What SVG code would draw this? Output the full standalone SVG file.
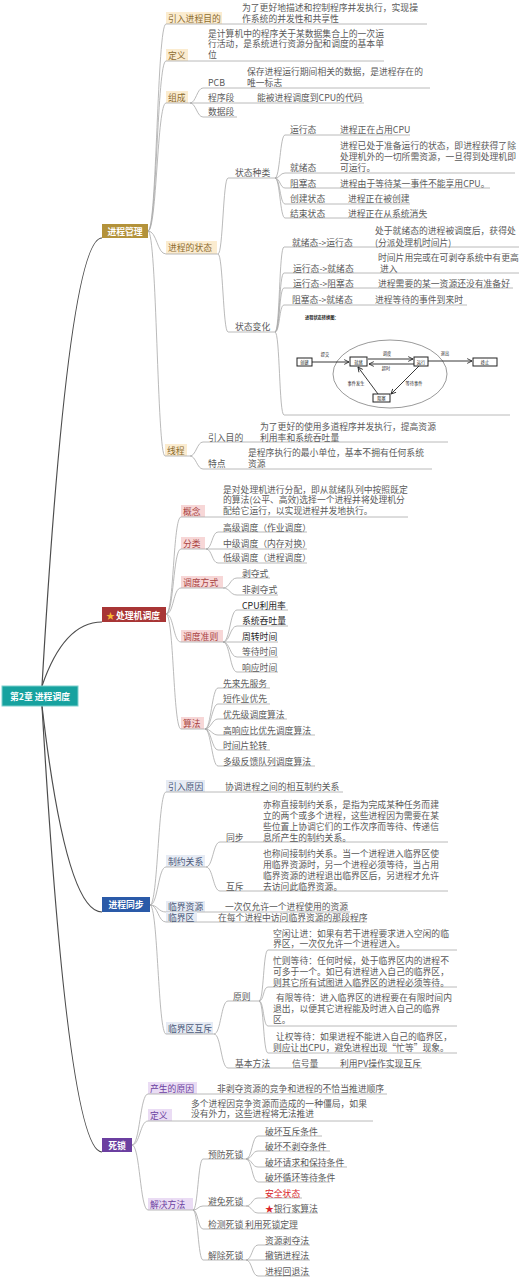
<svg xmlns="http://www.w3.org/2000/svg" width="519" height="1280" viewBox="0 0 519 1280">
<defs>
<style>
.ln{fill:none;stroke:#a8a8a8;stroke-width:0.8}
.mn{fill:none;stroke:#4d4d4d;stroke-width:1.2}
.t{font-family:"Noto Sans CJK SC","Liberation Sans",sans-serif;font-size:8.8px;fill:#5a5a5a;dominant-baseline:central}
.w{fill:#fff;font-weight:bold}
.g{fill:#8c6b2f}.r{fill:#a94442}.b{fill:#4a5878}.p{fill:#6b3fa0}.k{fill:#1e1e1e}.red{fill:#d9262b}
.bg{fill:#fbecd0}.bp{fill:#f7d7d7}.bb{fill:#e6ebf4}.bv{fill:#eadcf4}
.sd{font-family:"Noto Sans CJK SC","Liberation Sans",sans-serif;font-size:4.2px;fill:#222;dominant-baseline:central}
.bx{fill:#fff;stroke:#222;stroke-width:1}
.ar{fill:none;stroke:#222;stroke-width:0.9}
</style>
<marker id="ah" viewBox="0 0 10 10" refX="9" refY="5" markerWidth="6" markerHeight="6" orient="auto" markerUnits="userSpaceOnUse">
<path d="M1,1 L9,5 L1,9" fill="none" stroke="#222" stroke-width="1.4"/>
</marker>
</defs>
<rect width="519" height="1280" fill="#fff"/>

<g id="connectors">
<path class="mn" d="M42,686 Q68,238 102,238"/>
<path class="mn" d="M42,686 Q64,622 102,622"/>
<path class="mn" d="M42,706 Q66,912 102,912"/>
<path class="mn" d="M42,706 Q68,1152 102,1152"/>
<path class="ln" d="M148,231 C157,231 157,24 166,24"/>
<path class="ln" d="M148,231 C157,231 157,61 166,61"/>
<path class="ln" d="M148,231 C157,231 157,103 166,103"/>
<path class="ln" d="M148,231 C157,231 157,254 166,254"/>
<path class="ln" d="M148,231 C157,231 157,456 165,456"/>
<path class="ln" d="M190,103 C196,103 197,88 203,88"/>
<path class="ln" d="M190,103 L203,103"/>
<path class="ln" d="M190,103 C196,103 197,117 203,117"/>
<path class="ln" d="M218,254 C223,254 223,178 228,178"/>
<path class="ln" d="M218,254 C223,254 223,332 228,332"/>
<path class="ln" d="M275,178 C280,178 280,135 285,135"/>
<path class="ln" d="M275,178 C280,178 280,173 285,173"/>
<path class="ln" d="M275,178 C280,178 280,188 285,188"/>
<path class="ln" d="M275,178 C280,178 280,204 285,204"/>
<path class="ln" d="M275,178 C280,178 280,218 285,218"/>
<path class="ln" d="M275,332 C280,332 279,247 284,247"/>
<path class="ln" d="M275,332 C280,332 279,273 284,273"/>
<path class="ln" d="M275,332 C280,332 279,288 284,288"/>
<path class="ln" d="M275,332 C280,332 279,305 284,305"/>
<path class="ln" d="M275,332 C280,332 279,415 284,415"/>
<path class="ln" d="M190,456 C196,456 197,442 203,442"/>
<path class="ln" d="M190,456 C196,456 197,469 203,469"/>
<path class="ln" d="M166,614 C174,614 173,517 181,517"/>
<path class="ln" d="M166,614 C174,614 173,549 181,549"/>
<path class="ln" d="M166,614 C174,614 173,588 181,588"/>
<path class="ln" d="M166,614 C174,614 173,642 181,642"/>
<path class="ln" d="M166,614 C174,614 173,729 181,729"/>
<path class="ln" d="M206,549 C212,549 212,532 218,532"/>
<path class="ln" d="M206,549 L218,549"/>
<path class="ln" d="M206,549 C212,549 212,563 218,563"/>
<path class="ln" d="M223,588 C230,588 230,578 237,578"/>
<path class="ln" d="M223,588 C230,588 230,595 237,595"/>
<path class="ln" d="M223,642 C230,642 230,610 237,610"/>
<path class="ln" d="M223,642 C230,642 230,626 237,626"/>
<path class="ln" d="M223,642 L237,642"/>
<path class="ln" d="M223,642 C230,642 230,657 237,657"/>
<path class="ln" d="M223,642 C230,642 230,672 237,672"/>
<path class="ln" d="M205,729 C211,729 212,688 218,688"/>
<path class="ln" d="M205,729 C211,729 212,704 218,704"/>
<path class="ln" d="M205,729 C211,729 212,719 218,719"/>
<path class="ln" d="M205,729 C211,729 212,735 218,735"/>
<path class="ln" d="M205,729 C211,729 212,750 218,750"/>
<path class="ln" d="M205,729 C211,729 212,766 218,766"/>
<path class="ln" d="M150,905 C158,905 158,792 166,792"/>
<path class="ln" d="M150,905 C158,905 158,867 166,867"/>
<path class="ln" d="M150,905 C158,905 158,912 166,912"/>
<path class="ln" d="M150,905 C158,905 158,922 166,922"/>
<path class="ln" d="M150,905 C158,905 158,1034 166,1034"/>
<path class="ln" d="M206,867 C213,867 213,842 220,842"/>
<path class="ln" d="M206,867 C213,867 213,891 220,891"/>
<path class="ln" d="M214,1034 C221,1034 221,1001 228,1001"/>
<path class="ln" d="M214,1034 C221,1034 221,1068 228,1068"/>
<path class="ln" d="M259,1001 C264,1001 263,950 268,950"/>
<path class="ln" d="M259,1001 C264,1001 263,987 268,987"/>
<path class="ln" d="M259,1001 C264,1001 263,1026 268,1026"/>
<path class="ln" d="M259,1001 C264,1001 263,1053 268,1053"/>
<path class="ln" d="M132,1145 C140,1145 140,1094 148,1094"/>
<path class="ln" d="M132,1145 C140,1145 140,1121 148,1121"/>
<path class="ln" d="M132,1145 C140,1145 140,1210 148,1210"/>
<path class="ln" d="M193,1210 C198,1210 198,1159 203,1159"/>
<path class="ln" d="M193,1210 C198,1210 198,1206 203,1206"/>
<path class="ln" d="M193,1210 C198,1210 198,1229 203,1229"/>
<path class="ln" d="M193,1210 C198,1210 198,1260 203,1260"/>
<path class="ln" d="M246,1159 C252,1159 252,1136 258,1136"/>
<path class="ln" d="M246,1159 C252,1159 252,1151 258,1151"/>
<path class="ln" d="M246,1159 C252,1159 252,1167 258,1167"/>
<path class="ln" d="M246,1159 C252,1159 252,1182 258,1182"/>
<path class="ln" d="M246,1206 C252,1206 252,1198 258,1198"/>
<path class="ln" d="M246,1206 C252,1206 252,1213 258,1213"/>
<path class="ln" d="M246,1260 C252,1260 252,1245 258,1245"/>
<path class="ln" d="M246,1260 L258,1260"/>
<path class="ln" d="M246,1260 C252,1260 252,1276 258,1276"/>
</g>

<g id="root"><rect x="2" y="686" width="76" height="20" fill="#17a29f" stroke="#7fd0cd" stroke-width="1"/><text class="t w" x="40" y="696" text-anchor="middle">第2章 进程调度</text></g>

<g id="n-jcgl"><rect x="102" y="224" width="46" height="14" fill="#b3923a"/><text class="t w" x="125" y="231" text-anchor="middle">进程管理</text></g>
<g id="n-yrjcmd"><rect class="bg" x="166" y="12" width="56" height="12"/><path class="ln" d="M166,24 H427"/><text class="t g" x="168" y="18">引入进程目的</text>
<text class="t" x="242" y="7.5">为了更好地描述和控制程序并发执行，实现操</text><text class="t" x="242" y="18.5">作系统的并发性和共享性</text></g>
<g id="n-dy"><rect class="bg" x="166" y="49" width="22" height="12"/><path class="ln" d="M166,61 H384"/><text class="t g" x="168" y="55">定义</text>
<text class="t" x="208" y="33">是计算机中的程序关于某数据集合上的一次运</text><text class="t" x="208" y="43.5">行活动，是系统进行资源分配和调度的基本单</text><text class="t" x="208" y="54">位</text></g>
<g id="n-zc"><rect class="bg" x="166" y="91" width="22" height="12"/><path class="ln" d="M166,103 H190"/><text class="t g" x="168" y="97">组成</text></g>
<g id="n-pcb"><path class="ln" d="M203,88 H430"/><text class="t" x="208" y="82">PCB</text><text class="t" x="247" y="71.5">保存进程运行期间相关的数据，是进程存在的</text><text class="t" x="247" y="82">唯一标志</text></g>
<g id="n-cxd"><path class="ln" d="M203,103 H364"/><text class="t" x="208" y="97.5">程序段</text><text class="t" x="257" y="97.5">能被进程调度到CPU的代码</text></g>
<g id="n-sjd"><path class="ln" d="M203,117 H237"/><text class="t" x="208" y="111">数据段</text></g>
<g id="n-jcdzt"><rect class="bg" x="166" y="241" width="51" height="13"/><path class="ln" d="M166,254 H218"/><text class="t g" x="168" y="247.5">进程的状态</text></g>
<g id="n-ztzl"><path class="ln" d="M228,178 H275"/><text class="t" x="235" y="172">状态种类</text></g>
<g id="n-yxt"><path class="ln" d="M285,135 H410"/><text class="t" x="290" y="129">运行态</text><text class="t" x="340" y="129">进程正在占用CPU</text></g>
<g id="n-jxt"><path class="ln" d="M285,173 H515"/><text class="t" x="290" y="167">就绪态</text><text class="t" x="340" y="145">进程已处于准备运行的状态，即进程获得了除</text><text class="t" x="340" y="156">处理机外的一切所需资源，一旦得到处理机即</text><text class="t" x="340" y="167">可运行。</text></g>
<g id="n-zst"><path class="ln" d="M285,188 H490"/><text class="t" x="290" y="183">阻塞态</text><text class="t" x="340" y="183">进程由于等待某一事件不能享用CPU。</text></g>
<g id="n-cjzt"><path class="ln" d="M285,204 H410"/><text class="t" x="290" y="198.5">创建状态</text><text class="t" x="348" y="198.5">进程正在被创建</text></g>
<g id="n-jszt"><path class="ln" d="M285,218 H427"/><text class="t" x="290" y="213">结束状态</text><text class="t" x="348" y="213">进程正在从系统消失</text></g>
<g id="n-ztbh"><path class="ln" d="M228,332 H275"/><text class="t" x="235" y="326">状态变化</text></g>
<g id="n-bh1"><path class="ln" d="M284,247 H519"/><text class="t" x="292" y="242">就绪态-&gt;运行态</text><text class="t" x="375" y="230.5">处于就绪态的进程被调度后，获得处</text><text class="t" x="375" y="242">(分派处理机时间片)</text></g>
<g id="n-bh2"><path class="ln" d="M284,273 H519"/><text class="t" x="293" y="268">运行态-&gt;就绪态</text><text class="t" x="378" y="257">时间片用完或在可剥夺系统中有更高</text><text class="t" x="380" y="268">进入</text></g>
<g id="n-bh3"><path class="ln" d="M284,288 H513"/><text class="t" x="293" y="283">运行态-&gt;阻塞态</text><text class="t" x="378" y="283">进程需要的某一资源还没有准备好</text></g>
<g id="n-bh4"><path class="ln" d="M284,305 H467"/><text class="t" x="292" y="299">阻塞态-&gt;就绪态</text><text class="t" x="375" y="299">进程等待的事件到来时</text></g>
<g id="n-ztt"><path class="ln" d="M284,415 H510"/>
<text class="sd" x="305" y="317" font-weight="bold">进程状态转换图：</text>
<ellipse cx="390" cy="374" rx="57" ry="34" fill="none" stroke="#555" stroke-width="0.6"/>
<path class="ar" d="M312,362 H349" marker-end="url(#ah)"/>
<path class="ar" d="M368,359 H413" marker-end="url(#ah)"/>
<path class="ar" d="M414,364 H369" marker-end="url(#ah)"/>
<path class="ar" d="M428,361 H472" marker-end="url(#ah)"/>
<path class="ar" d="M419,366 L391,394" marker-end="url(#ah)"/>
<path class="ar" d="M378,394 L358,367" marker-end="url(#ah)"/>
<rect class="bx" x="297" y="358" width="15" height="8"/><text class="sd" x="304.5" y="362" text-anchor="middle">创建</text>
<rect class="bx" x="350" y="357" width="17" height="9"/><text class="sd" x="358.5" y="361.5" text-anchor="middle">就绪</text>
<rect class="bx" x="414" y="357" width="14" height="9"/><text class="sd" x="421" y="361.5" text-anchor="middle">运行</text>
<rect class="bx" x="473" y="358" width="24" height="8"/><text class="sd" x="485" y="362" text-anchor="middle">终止</text>
<rect class="bx" x="373" y="394" width="17" height="8"/><text class="sd" x="381.5" y="398" text-anchor="middle">阻塞</text>
<text class="sd" x="325" y="354" text-anchor="middle">提交</text>
<text class="sd" x="387" y="353" text-anchor="middle">调度</text>
<text class="sd" x="386" y="368" text-anchor="middle">超时</text>
<text class="sd" x="445" y="353" text-anchor="middle">退出</text>
<text class="sd" x="414" y="383" text-anchor="middle">等待事件</text>
<text class="sd" x="356" y="383" text-anchor="middle">事件发生</text>
</g>
<g id="n-xc"><rect class="bg" x="165" y="444" width="22" height="12"/><path class="ln" d="M165,456 H190"/><text class="t g" x="167" y="450">线程</text></g>
<g id="n-xc1"><path class="ln" d="M203,442 H448"/><text class="t" x="208" y="437">引入目的</text><text class="t" x="260" y="426">为了更好的使用多道程序并发执行，提高资源</text><text class="t" x="260" y="437">利用率和系统吞吐量</text></g>
<g id="n-xc2"><path class="ln" d="M203,469 H432"/><text class="t" x="208" y="463">特点</text><text class="t" x="248" y="452.5">是程序执行的最小单位，基本不拥有任何系统</text><text class="t" x="248" y="463">资源</text></g>

<g id="n-cljdd"><rect x="102" y="607" width="64" height="15" fill="#a83535"/><text class="t w" x="106" y="614.5"><tspan fill="#f7b731">★</tspan><tspan x="116">处理机调度</tspan></text></g>
<g id="n-gn"><rect class="bp" x="181" y="505" width="24" height="12"/><path class="ln" d="M181,517 H408"/><text class="t r" x="183" y="511">概念</text>
<text class="t" x="223" y="489">是对处理机进行分配，即从就绪队列中按照既定</text><text class="t" x="223" y="499.5">的算法(公平、高效)选择一个进程并将处理机分</text><text class="t" x="223" y="510">配给它运行，以实现进程并发地执行。</text></g>
<g id="n-fl"><rect class="bp" x="181" y="537" width="24" height="12"/><path class="ln" d="M181,549 H206"/><text class="t r" x="183" y="543">分类</text></g>
<g id="n-fl1"><path class="ln" d="M218,532 H307"/><text class="t" x="223" y="527">高级调度（作业调度）</text></g>
<g id="n-fl2"><path class="ln" d="M218,549 H307"/><text class="t" x="223" y="543">中级调度（内存对换）</text></g>
<g id="n-fl3"><path class="ln" d="M218,563 H307"/><text class="t" x="223" y="557.5">低级调度（进程调度）</text></g>
<g id="n-ddfs"><rect class="bp" x="181" y="576" width="42" height="12"/><path class="ln" d="M181,588 H223"/><text class="t r" x="183" y="582">调度方式</text></g>
<g id="n-bds"><path class="ln" d="M237,578 H270"/><text class="t" x="242" y="573">剥夺式</text></g>
<g id="n-fbds"><path class="ln" d="M237,595 H278"/><text class="t" x="242" y="589">非剥夺式</text></g>
<g id="n-ddzz"><rect class="bp" x="181" y="630" width="42" height="12"/><path class="ln" d="M181,642 H223"/><text class="t r" x="183" y="636">调度准则</text></g>
<g id="n-zz1"><path class="ln" d="M237,610 H288"/><text class="t k" x="242" y="605">CPU利用率</text></g>
<g id="n-zz2"><path class="ln" d="M237,626 H288"/><text class="t k" x="242" y="620">系统吞吐量</text></g>
<g id="n-zz3"><path class="ln" d="M237,642 H278"/><text class="t k" x="242" y="636">周转时间</text></g>
<g id="n-zz4"><path class="ln" d="M237,657 H278"/><text class="t" x="242" y="651">等待时间</text></g>
<g id="n-zz5"><path class="ln" d="M237,672 H278"/><text class="t" x="242" y="667">响应时间</text></g>
<g id="n-sf"><rect class="bp" x="181" y="717" width="23" height="12"/><path class="ln" d="M181,729 H205"/><text class="t r" x="183" y="723">算法</text></g>
<g id="n-sf1"><path class="ln" d="M218,688 H270"/><text class="t" x="223" y="683">先来先服务</text></g>
<g id="n-sf2"><path class="ln" d="M218,704 H270"/><text class="t" x="223" y="698">短作业优先</text></g>
<g id="n-sf3"><path class="ln" d="M218,719 H287"/><text class="t" x="223" y="714">优先级调度算法</text></g>
<g id="n-sf4"><path class="ln" d="M218,735 H315"/><text class="t" x="223" y="730">高响应比优先调度算法</text></g>
<g id="n-sf5"><path class="ln" d="M218,750 H270"/><text class="t" x="223" y="745">时间片轮转</text></g>
<g id="n-sf6"><path class="ln" d="M218,766 H315"/><text class="t" x="223" y="761">多级反馈队列调度算法</text></g>

<g id="n-jctb"><rect x="102" y="897" width="48" height="15" fill="#2a5aa8"/><text class="t w" x="126" y="904.5" text-anchor="middle">进程同步</text></g>
<g id="n-yryy"><rect class="bb" x="166" y="780" width="39" height="12"/><path class="ln" d="M166,792 H343"/><text class="t b" x="168" y="786">引入原因</text><text class="t" x="225" y="786">协调进程之间的相互制约关系</text></g>
<g id="n-zygx"><rect class="bb" x="166" y="855" width="39" height="12"/><path class="ln" d="M166,867 H206"/><text class="t b" x="168" y="861">制约关系</text></g>
<g id="n-tb"><path class="ln" d="M220,842 H448"/><text class="t" x="226" y="837">同步</text>
<text class="t" x="263" y="804">亦称直接制约关系，是指为完成某种任务而建</text><text class="t" x="263" y="815">立的两个或多个进程，这些进程因为需要在某</text><text class="t" x="263" y="826">些位置上协调它们的工作次序而等待、传递信</text><text class="t" x="263" y="837">息所产生的制约关系。</text></g>
<g id="n-hc"><path class="ln" d="M220,891 H448"/><text class="t" x="226" y="886">互斥</text>
<text class="t" x="263" y="853">也称间接制约关系。当一个进程进入临界区使</text><text class="t" x="263" y="864">用临界资源时，另一个进程必须等待，当占用</text><text class="t" x="263" y="875">临界资源的进程退出临界区后，另进程才允许</text><text class="t" x="263" y="886">去访问此临界资源。</text></g>
<g id="n-ljzy"><rect class="bb" x="166" y="901" width="39" height="11"/><path class="ln" d="M166,912 H350"/><text class="t b" x="168" y="906.5">临界资源</text><text class="t" x="225" y="906.5">一次仅允许一个进程使用的资源</text></g>
<g id="n-ljq"><rect class="bb" x="166" y="912" width="31" height="10"/><path class="ln" d="M166,922 H367"/><text class="t b" x="168" y="917">临界区</text><text class="t" x="218" y="917">在每个进程中访问临界资源的那段程序</text></g>
<g id="n-ljqhc"><rect class="bb" x="166" y="1022" width="47" height="12"/><path class="ln" d="M166,1034 H214"/><text class="t b" x="168" y="1028">临界区互斥</text></g>
<g id="n-yz"><path class="ln" d="M228,1001 H259"/><text class="t" x="233" y="996">原则</text></g>
<g id="n-yz1"><path class="ln" d="M268,950 H457"/><text class="t" x="273" y="933">空闲让进：如果有若干进程要求进入空闲的临</text><text class="t" x="273" y="943.5">界区，一次仅允许一个进程进入。</text></g>
<g id="n-yz2"><path class="ln" d="M268,987 H457"/><text class="t" x="273" y="960">忙则等待：任何时候，处于临界区内的进程不</text><text class="t" x="273" y="971">可多于一个。如已有进程进入自己的临界区，</text><text class="t" x="273" y="982">则其它所有试图进入临界区的进程必须等待。</text></g>
<g id="n-yz3"><path class="ln" d="M268,1026 H457"/><text class="t" x="276" y="997">有限等待：进入临界区的进程要在有限时间内</text><text class="t" x="273" y="1008">退出，以便其它进程能及时进入自己的临界</text><text class="t" x="273" y="1019">区。</text></g>
<g id="n-yz4"><path class="ln" d="M268,1053 H457"/><text class="t" x="276" y="1036">让权等待：如果进程不能进入自己的临界区，</text><text class="t" x="273" y="1047.5">则应让出CPU，避免进程出现“忙等”现象。</text></g>
<g id="n-jbff"><path class="ln" d="M228,1068 H422"/><text class="t" x="235" y="1063">基本方法</text><text class="t" x="292" y="1063">信号量</text><text class="t" x="340" y="1063">利用PV操作实现互斥</text></g>

<g id="n-sisuo"><rect x="102" y="1138" width="30" height="14" fill="#6b3fa0"/><text class="t w" x="117" y="1145" text-anchor="middle">死锁</text></g>
<g id="n-csyy"><rect class="bv" x="148" y="1082" width="49" height="12"/><path class="ln" d="M148,1094 H387"/><text class="t p" x="150" y="1088">产生的原因</text><text class="t" x="217" y="1088">非剥夺资源的竞争和进程的不恰当推进顺序</text></g>
<g id="n-sdy"><rect class="bv" x="148" y="1109" width="24" height="12"/><path class="ln" d="M148,1121 H373"/><text class="t p" x="150" y="1115">定义</text><text class="t" x="191" y="1103">多个进程因竞争资源而造成的一种僵局，如果</text><text class="t" x="191" y="1113.5">没有外力，这些进程将无法推进</text></g>
<g id="n-jjff"><rect class="bv" x="148" y="1198" width="45" height="12"/><path class="ln" d="M148,1210 H193"/><text class="t p" x="150" y="1204">解决方法</text></g>
<g id="n-yfss"><path class="ln" d="M203,1159 H246"/><text class="t" x="208" y="1154">预防死锁</text></g>
<g id="n-yf1"><path class="ln" d="M258,1136 H322"/><text class="t" x="265" y="1131">破坏互斥条件</text></g>
<g id="n-yf2"><path class="ln" d="M258,1151 H330"/><text class="t" x="265" y="1146">破坏不剥夺条件</text></g>
<g id="n-yf3"><path class="ln" d="M258,1167 H347"/><text class="t" x="265" y="1162">破坏请求和保持条件</text></g>
<g id="n-yf4"><path class="ln" d="M258,1182 H330"/><text class="t" x="265" y="1177">破坏循环等待条件</text></g>
<g id="n-bmss"><path class="ln" d="M203,1206 H246"/><text class="t" x="208" y="1201">避免死锁</text></g>
<g id="n-aqzt"><path class="ln" d="M258,1198 H302"/><text class="t red" x="265" y="1193">安全状态</text></g>
<g id="n-yhj"><path class="ln" d="M258,1213 H318"/><text class="t" x="265" y="1208"><tspan class="red">★</tspan>银行家算法</text></g>
<g id="n-jcss"><path class="ln" d="M203,1229 H298"/><text class="t" x="208" y="1224">检测死锁</text><text class="t" x="245" y="1224">利用死锁定理</text></g>
<g id="n-jcss2"><path class="ln" d="M203,1260 H246"/><text class="t" x="208" y="1255">解除死锁</text></g>
<g id="n-jc1"><path class="ln" d="M258,1245 H310"/><text class="t" x="265" y="1240">资源剥夺法</text></g>
<g id="n-jc2"><path class="ln" d="M258,1260 H310"/><text class="t" x="265" y="1255">撤销进程法</text></g>
<g id="n-jc3"><path class="ln" d="M258,1276 H310"/><text class="t" x="265" y="1271">进程回退法</text></g>
</svg>
